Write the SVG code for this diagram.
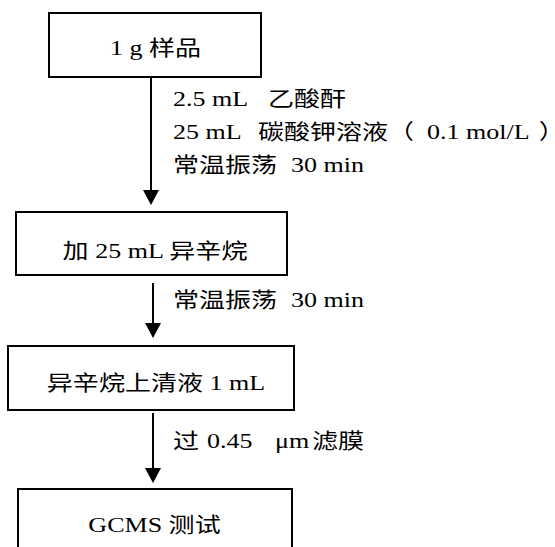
<svg xmlns="http://www.w3.org/2000/svg" width="555" height="547" viewBox="0 0 555 547">
<style>
  .box { fill: #ffffff; stroke: #000000; stroke-width: 2; }
  .t { font-family: "Liberation Serif", "Noto Sans CJK SC", serif; font-size: 21px; fill: #000000; }
  .c { text-anchor: middle; }
  .conn { stroke: #000000; stroke-width: 2; fill: none; marker-end: url(#arrow); }
</style>
<defs>
  <marker id="arrow" viewBox="0 0 15 16" refX="0" refY="8" markerWidth="15" markerHeight="16" markerUnits="userSpaceOnUse" orient="auto">
    <path d="M0,0 L15,8 L0,16 Z" fill="#000000"/>
  </marker>
</defs>
<rect x="0" y="0" width="555" height="547" fill="#ffffff"/>

<g id="node-sample">
  <rect class="box" x="49" y="13" width="212" height="64"/>
  <text class="t c" transform="matrix(1.24 0 0 1 155.5 55)">1 g 样品</text>
</g>

<g id="node-isooctane">
  <rect class="box" x="16" y="212" width="271" height="63"/>
  <text class="t c" transform="matrix(1.24 0 0 1 155 258)">加 25 mL 异辛烷</text>
</g>

<g id="node-supernatant">
  <rect class="box" x="8" y="346" width="286" height="64"/>
  <text class="t c" transform="matrix(1.24 0 0 1 156 390)">异辛烷上清液 1 mL</text>
</g>

<g id="node-gcms">
  <rect class="box" x="18" y="489" width="274" height="80"/>
  <text class="t c" transform="matrix(1.24 0 0 1 154.5 532)">GCMS 测试</text>
</g>

<g id="connectors">
  <line class="conn" x1="151" y1="78" x2="151" y2="190"/>
  <line class="conn" x1="153" y1="283" x2="153" y2="323"/>
  <line class="conn" x1="153" y1="413" x2="153" y2="468"/>
</g>

<g id="labels">
  <text class="t" transform="matrix(1.24 0 0 1 173 106)">2.5 mL<tspan x="76.6">乙酸酐</tspan></text>
  <text class="t" transform="matrix(1.24 0 0 1 173 139)">25 mL<tspan x="68.5">碳酸钾溶液（</tspan><tspan x="204.8">0.1 mol/L</tspan><tspan x="295" letter-spacing="-10">）</tspan></text>
  <text class="t" transform="matrix(1.24 0 0 1 173 172)">常温振荡<tspan x="95.2">30 min</tspan></text>
  <text class="t" transform="matrix(1.24 0 0 1 173 307)">常温振荡<tspan x="95.2">30 min</tspan></text>
  <text class="t" transform="matrix(1.24 0 0 1 173 448)">过<tspan x="27.4">0.45</tspan><tspan x="82.3">μm</tspan><tspan x="112">滤膜</tspan></text>
</g>
</svg>
